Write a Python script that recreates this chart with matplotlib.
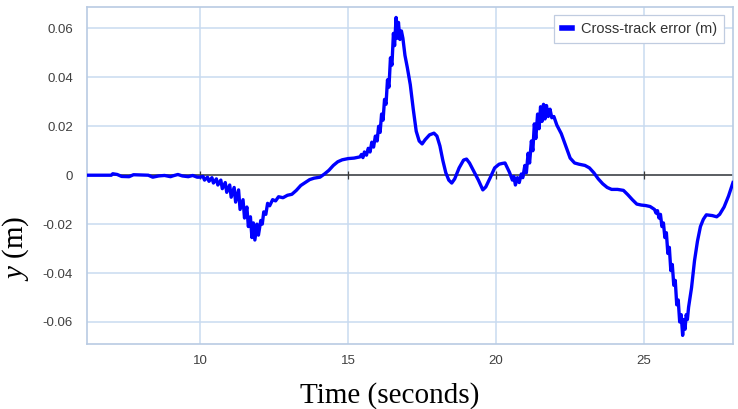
import matplotlib
matplotlib.use("Agg")
import matplotlib.pyplot as plt

# Cross-track error
t = [6.18, 7.0, 7.05, 7.2, 7.35, 7.6, 7.75, 8.0, 8.25, 8.4, 8.6, 8.8, 9.0, 9.1,
     9.25, 9.4, 9.6, 9.75, 9.9,
     10.0, 10.1, 10.15, 10.25, 10.3, 10.4, 10.45, 10.55, 10.6, 10.7, 10.75,
     10.85, 10.9, 11.0, 11.05, 11.15, 11.2, 11.3, 11.35, 11.45, 11.5, 11.58,
     11.63, 11.7, 11.75, 11.8, 11.85, 11.92, 11.97, 12.05, 12.1, 12.15, 12.22,
     12.28, 12.35, 12.45, 12.55, 12.65, 12.8, 12.95, 13.1, 13.25, 13.4, 13.55,
     13.7, 13.85, 14.05, 14.2, 14.35, 14.5, 14.65, 14.8, 15.0, 15.2, 15.4,
     15.45, 15.5, 15.55, 15.62, 15.68, 15.74, 15.8, 15.86, 15.92, 15.98, 16.03,
     16.08, 16.13, 16.18, 16.23, 16.28, 16.33, 16.38, 16.43, 16.48, 16.53,
     16.57, 16.62, 16.66, 16.7, 16.75, 16.8, 16.85, 16.92, 17.0, 17.1, 17.2,
     17.3, 17.4, 17.5, 17.6, 17.75, 17.9, 18.0, 18.1, 18.2, 18.3, 18.4, 18.5,
     18.6, 18.75, 18.9, 19.0, 19.1, 19.25, 19.4, 19.55, 19.65, 19.8, 19.95,
     20.1, 20.2,
     20.3, 20.45, 20.55, 20.6, 20.65, 20.72, 20.78, 20.85, 20.9, 20.97, 21.02,
     21.08, 21.13, 21.19, 21.24, 21.29, 21.34, 21.4, 21.45, 21.5, 21.55, 21.6,
     21.65, 21.7, 21.76, 21.82, 21.88, 21.95, 22.05, 22.2, 22.35, 22.5, 22.65,
     22.8, 23.0, 23.15, 23.3, 23.45, 23.6, 23.75, 23.9, 24.1, 24.3, 24.45,
     24.6, 24.75, 24.9, 25.05, 25.2, 25.35,
     25.4, 25.45, 25.5, 25.55, 25.6, 25.65, 25.7, 25.75, 25.8, 25.85, 25.9,
     25.95, 26.0, 26.05, 26.1, 26.15, 26.2, 26.25, 26.3, 26.34, 26.38, 26.42,
     26.46, 26.5, 26.6, 26.7, 26.8, 26.9, 27.0, 27.1, 27.3, 27.45, 27.55,
     27.7, 27.85, 28.0]

err = [0.0, 0.0, 0.0006, 0.0003, -0.0005, -0.0006, 0.0002, 0.0001, 0.0, -0.0008,
       -0.0003, -0.0001, -0.0006, -0.0002, 0.0003, -0.0003, -0.0006, -0.0001,
       -0.0008,
       -0.0008, -0.0005, -0.0020, -0.0008, -0.0025, -0.0010, -0.0032, -0.0015,
       -0.0040, -0.0020, -0.0055, -0.0030, -0.0070, -0.0040, -0.0090, -0.0050,
       -0.0110, -0.0060, -0.0140, -0.0100, -0.0175, -0.0130, -0.0210, -0.0170,
       -0.0255, -0.0195, -0.0265, -0.0200, -0.0245, -0.0185, -0.0200, -0.0150,
       -0.0160, -0.0115, -0.0125, -0.0100, -0.0105, -0.0088, -0.0092, -0.0082,
       -0.0078, -0.0062, -0.0042, -0.0030, -0.0018, -0.0012, -0.0008, 0.0005,
       0.0020, 0.0040, 0.0055, 0.0063, 0.0068, 0.0070, 0.0075,
       0.0085, 0.0072, 0.0095, 0.0082, 0.0110, 0.0095, 0.0135, 0.0115, 0.0160,
       0.0140, 0.0200, 0.0175, 0.0250, 0.0225, 0.0310, 0.0290, 0.0390, 0.0360,
       0.0480, 0.0450, 0.0580, 0.0530, 0.0645, 0.0560, 0.0625, 0.0555, 0.0590,
       0.0560, 0.0490, 0.0440, 0.0370, 0.0270, 0.0180, 0.0140, 0.0128, 0.0145,
       0.0165, 0.0172, 0.0160, 0.0120, 0.0060, 0.0010, -0.0020, -0.0032,
       -0.0015, 0.0030, 0.0062, 0.0066, 0.0050, 0.0015, -0.0020, -0.0060,
       -0.0048, -0.0010, 0.0030, 0.0045, 0.0048,
       0.0050, 0.0012, -0.0020, -0.0005, -0.0040, -0.0010, -0.0030, 0.0005,
       -0.0010, 0.0040, 0.0010, 0.0090, 0.0050, 0.0140, 0.0100, 0.0210, 0.0150,
       0.0250, 0.0190, 0.0280, 0.0220, 0.0290, 0.0230, 0.0285, 0.0240, 0.0270,
       0.0235, 0.0240, 0.0205, 0.0170, 0.0120, 0.0070, 0.0050, 0.0045, 0.0040,
       0.0030, 0.0010, -0.0015, -0.0035, -0.0050, -0.0058, -0.0058, -0.0062,
       -0.0080, -0.0100, -0.0118, -0.0122, -0.0124, -0.0128, -0.0140,
       -0.0155, -0.0145, -0.0175, -0.0160, -0.0210, -0.0195, -0.0255, -0.0235,
       -0.0320, -0.0295, -0.0390, -0.0365, -0.0450, -0.0430, -0.0530, -0.0510,
       -0.0600, -0.0570, -0.0655, -0.0590, -0.0630, -0.0570, -0.0590, -0.0540,
       -0.0460, -0.0350, -0.0270, -0.0210, -0.0180, -0.0162, -0.0165, -0.0170,
       -0.0160, -0.0130, -0.0085, -0.0030]

x_ticks = [10, 15, 20, 25]
y_ticks = [-0.06, -0.04, -0.02, 0, 0.02, 0.04, 0.06]
y_tick_labels = ["-0.06", "-0.04", "-0.02", "0", "0.02", "0.04", "0.06"]

plt.rcParams["mathtext.fontset"] = "custom"
plt.rcParams["mathtext.it"] = "Liberation Serif:italic"
plt.rcParams["mathtext.rm"] = "Liberation Serif"

grid_color = "#c9dbf0"

fig = plt.figure(figsize=(7.38, 4.09), dpi=100)
ax = fig.add_axes([0.1179, 0.159, 0.8753, 0.824])

ax.plot(t, err, color="#0000ff", linewidth=2.4, solid_joinstyle="round",
        label="Cross-track error (m)", zorder=3)

# zero line with small ticks at major x positions
ax.axhline(0, color="#3a3a3a", linewidth=1.1, zorder=2)
ax.plot(x_ticks, [0] * len(x_ticks), linestyle="none", marker="|",
        markersize=6, color="#3a3a3a", markeredgewidth=0.9, zorder=2)

ax.set_xlim(6.18, 28.0)
ax.set_ylim(-0.069, 0.0688)
ax.set_xticks(x_ticks)
ax.set_yticks(y_ticks)
ax.set_yticklabels(y_tick_labels)
ax.grid(True, color=grid_color, linewidth=1.1, zorder=0)
ax.set_axisbelow(True)
ax.tick_params(length=0, labelsize=9.5, labelcolor="#404040", pad=10)
ax.tick_params(axis="x", pad=8)
for lbl in ax.get_xticklabels() + ax.get_yticklabels():
    lbl.set_fontfamily("Liberation Sans")
for side in ["left", "bottom", "top", "right"]:
    ax.spines[side].set_color("#b9cbe3")
    ax.spines[side].set_linewidth(1.2)

leg = ax.legend(loc="upper right", prop={"family": "Liberation Sans", "size": 10.5},
                handlelength=0.7, handletextpad=0.6, borderpad=0.5,
                fancybox=False, framealpha=1, bbox_to_anchor=(0.9975, 0.999))
leg.get_frame().set_edgecolor("#c0cce0")
leg.get_frame().set_linewidth(0.9)
for h in leg.get_lines():
    h.set_linewidth(4)
for txt in leg.get_texts():
    txt.set_color("#333333")

fig.text(0.528, 1 - 396 / 409, "Time (seconds)", family="Liberation Serif",
         fontsize=21, ha="center", va="center")
fig.text(0.0, 1 - 248 / 409, "$y$ (m)", family="Liberation Serif",
         fontsize=21, rotation=90, ha="left", va="center")

fig.savefig("out.png", dpi=100)
